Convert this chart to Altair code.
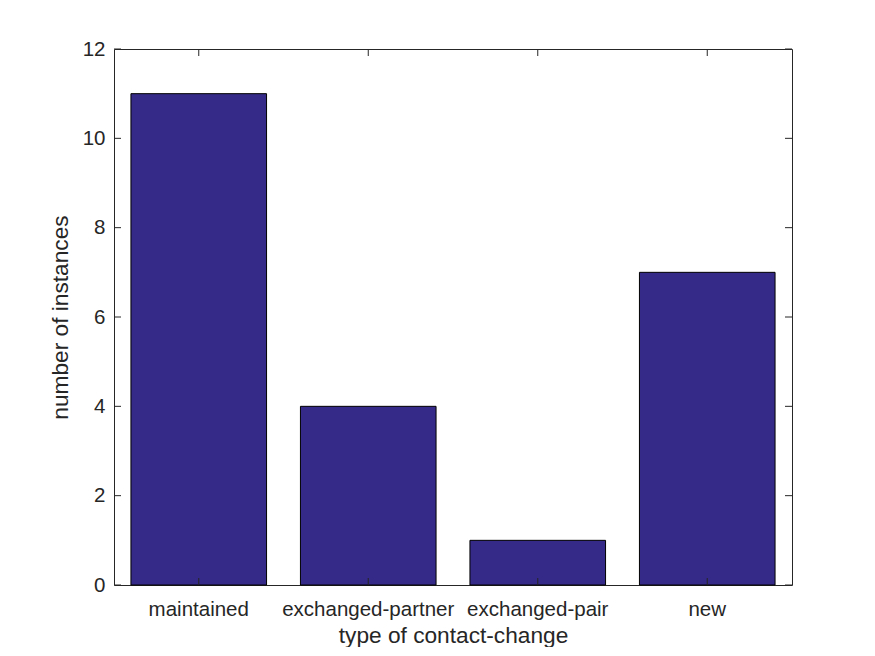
import altair as alt
import pandas as pd

categories = ["maintained", "exchanged-partner", "exchanged-pair", "new"]
counts = [11, 4, 1, 7]
y_ticks = [0, 2, 4, 6, 8, 10, 12]

W, H = 678, 536
FONT = "Liberation Sans"
TXT = "#262626"

bars_df = pd.DataFrame({"cat": categories, "n": counts})
yt_df = pd.DataFrame({"n": y_ticks})
xt_df = pd.DataFrame({"cat": categories})

xscale = alt.Scale(domain=categories, paddingInner=0.2, paddingOuter=0.1)
yscale = alt.Scale(domain=[0, 12], nice=False, zero=True)

xaxis = alt.Axis(title="type of contact-change", labelAngle=0,
                 ticks=False, domain=False, labelPadding=30,
                 labelBaseline="alphabetic", labelFontSize=20.5,
                 titleFontSize=22.7, titleFontWeight="normal",
                 titleBaseline="alphabetic", titleY=57, titleX=W / 2,
                 labelFont=FONT, titleFont=FONT,
                 labelColor=TXT, titleColor=TXT)
yaxis = alt.Axis(title="number of instances", values=y_ticks,
                 ticks=False, domain=False, grid=False,
                 labelPadding=9, labelFontSize=20.5,
                 titleFontSize=22.7, titleFontWeight="normal",
                 titleBaseline="alphabetic", titleX=-47, titleY=H / 2,
                 titleAngle=-90, labelFont=FONT, titleFont=FONT,
                 labelColor=TXT, titleColor=TXT)

bars = alt.Chart(bars_df).mark_bar(
    color="#352A87", stroke="#000000", strokeWidth=1
).encode(
    x=alt.X("cat:N", sort=categories, scale=xscale, axis=xaxis),
    y=alt.Y("n:Q", scale=yscale, axis=yaxis),
)

TK = 7
rule_style = dict(color=TXT, strokeWidth=1)

ytick_left = alt.Chart(yt_df).mark_rule(**rule_style).encode(
    y=alt.Y("n:Q", scale=yscale, axis=yaxis),
    x=alt.value(0), x2=alt.value(TK))
ytick_right = alt.Chart(yt_df).mark_rule(**rule_style).encode(
    y=alt.Y("n:Q", scale=yscale, axis=yaxis),
    x=alt.value(W - TK), x2=alt.value(W))
xtick_top = alt.Chart(xt_df).mark_rule(**rule_style).encode(
    x=alt.X("cat:N", sort=categories, scale=xscale, axis=xaxis),
    y=alt.value(0), y2=alt.value(TK))
xtick_bottom = alt.Chart(xt_df).mark_rule(**rule_style).encode(
    x=alt.X("cat:N", sort=categories, scale=xscale, axis=xaxis),
    y=alt.value(H - TK), y2=alt.value(H))

chart = alt.layer(bars, ytick_left, ytick_right, xtick_top, xtick_bottom).properties(
    width=W, height=H,
    autosize=alt.AutoSizeParams(type="none"),
    padding={"left": 106, "top": 41, "right": 60, "bottom": 62},
    background="white",
).configure_view(
    stroke=TXT, strokeWidth=1
)

chart.save("out.html", embed_options={"renderer": "svg", "actions": False})
